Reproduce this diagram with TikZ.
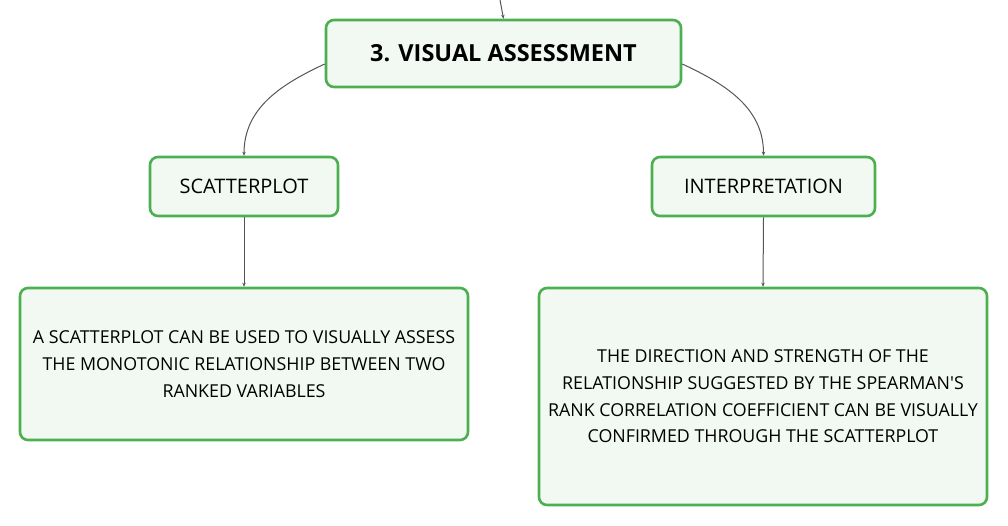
\documentclass[tikz,border=0pt]{standalone}
\usepackage{fontspec}
\setmainfont{Open Sans}
\usetikzlibrary{arrows.meta,calc}
\definecolor{boxfill}{HTML}{F1F9F2}
\definecolor{boxline}{HTML}{4CAF50}
\definecolor{conn}{HTML}{555555}
\tikzset{
  card/.style={draw=boxline,fill=boxfill,line width=2.6pt,rounded corners=8pt,align=center,inner sep=0pt},
  link/.style={draw=conn,line width=1pt,-{Stealth[length=4pt,width=3.5pt]}}
}
\begin{document}
\begin{tikzpicture}[x=1pt,y=-1pt]
\useasboundingbox (0,0) rectangle (1008,526);
\node[card,minimum width=355pt,minimum height=67pt,font=\fontsize{23.5}{28}\selectfont\bfseries] (top) at (503.5,53.5) {3. VISUAL ASSESSMENT};
\node[card,minimum width=188pt,minimum height=59pt,font=\fontsize{20}{24}\selectfont] (scat) at (244,186.5) {SCATTERPLOT};
\node[card,minimum width=223pt,minimum height=59pt,font=\fontsize{20}{24}\selectfont] (interp) at (763.5,186.5) {INTERPRETATION};
\node[card,minimum width=448pt,minimum height=152pt,font=\fontsize{17.8}{26.7}\selectfont] (scatd) at (244,364) {A SCATTERPLOT CAN BE USED TO VISUALLY ASSESS\\THE MONOTONIC RELATIONSHIP BETWEEN TWO\\RANKED VARIABLES};
\node[card,minimum width=448pt,minimum height=217pt,font=\fontsize{17.8}{26.7}\selectfont] (interpd) at (763,396.5) {THE DIRECTION AND STRENGTH OF THE\\RELATIONSHIP SUGGESTED BY THE SPEARMAN\textquotesingle S\\RANK CORRELATION COEFFICIENT CAN BE VISUALLY\\CONFIRMED THROUGH THE SCATTERPLOT};
\coordinate (src) at (500,0);
\coordinate (tl) at ($(top.west)+(0,10.5)$);
\coordinate (tr) at ($(top.east)+(0,10.5)$);
\draw[link] (src) -- (top.north);
\draw[link] (tl) to[out=205,in=90] (scat.north);
\draw[link] (tr) to[out=-25,in=90] (interp.north);
\draw[link] (scat.south) -- (scatd.north);
\draw[link] (interp.south) -- (interpd.north);
\end{tikzpicture}
\end{document}
